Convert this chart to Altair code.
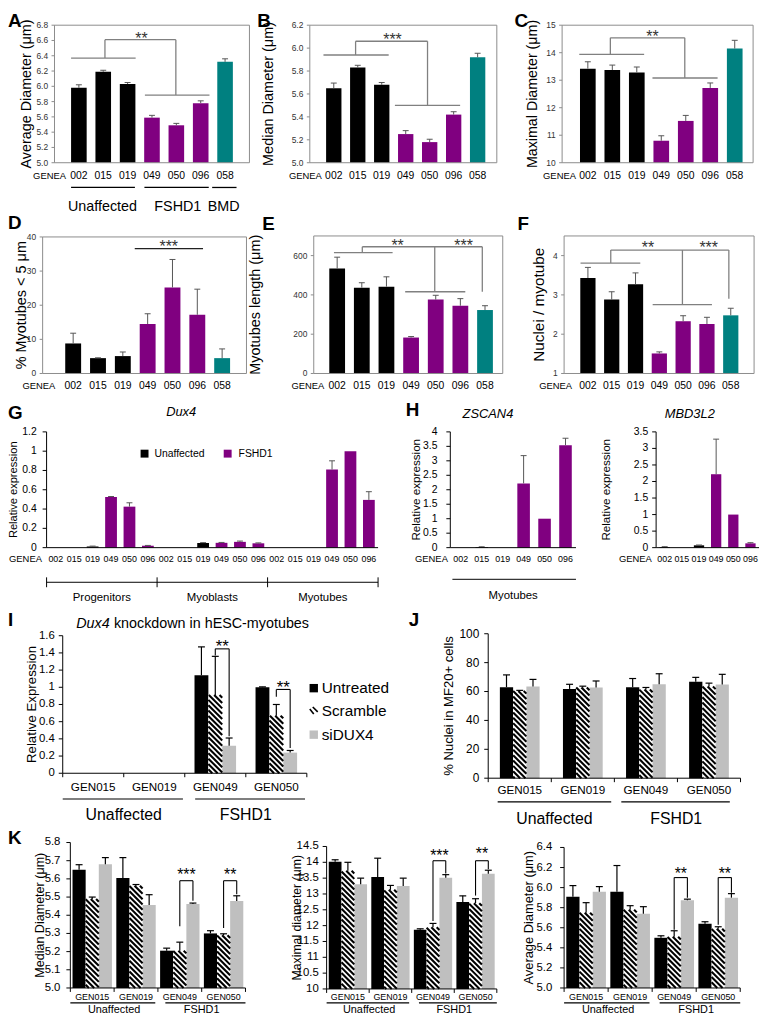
import altair as alt
import pandas as pd

# ------------------------------------------------------------------ data
GENEA = ["002", "015", "019", "049", "050", "096", "058"]
GENEA_GROUP = ["Unaffected", "Unaffected", "Unaffected", "FSHD1", "FSHD1", "FSHD1", "BMD"]

avg_diam = [5.98, 6.19, 6.03, 5.59, 5.49, 5.78, 6.32]
avg_diam_err = [0.04, 0.02, 0.02, 0.03, 0.025, 0.03, 0.04]
med_diam = [5.65, 5.83, 5.68, 5.25, 5.18, 5.42, 5.92]
med_diam_err = [0.045, 0.02, 0.02, 0.03, 0.025, 0.025, 0.035]
max_diam = [13.42, 13.37, 13.28, 10.80, 11.52, 12.72, 14.15]
max_diam_err = [0.25, 0.18, 0.20, 0.18, 0.20, 0.18, 0.30]
pct_small = [8.8, 4.5, 5.1, 14.5, 25.2, 17.2, 4.5]
pct_small_err = [3.0, 0.1, 1.2, 3.0, 8.2, 7.5, 2.7]
tube_len = [534, 437, 442, 183, 376, 345, 323]
tube_len_err = [58, 25, 50, 5, 22, 36, 22]
nuclei = [3.43, 2.88, 3.27, 1.51, 2.33, 2.26, 2.48]
nuclei_err = [0.27, 0.20, 0.29, 0.04, 0.14, 0.17, 0.18]

LINES6 = ["002", "015", "019", "049", "050", "096"]
LINES6_GROUP = ["Unaffected"] * 3 + ["FSHD1"] * 3
STAGES = ["Progenitors", "Myoblasts", "Myotubes"]
dux4 = [0, 0, 0.012, 0.525, 0.425, 0.02,
        0, 0, 0.048, 0.05, 0.06, 0.045,
        0, 0, 0, 0.81, 1.0, 0.495]
dux4_err = [0, 0, 0.004, 0.005, 0.04, 0.003,
            0, 0, 0.004, 0.004, 0.008, 0.004,
            0, 0, 0, 0.09, 0, 0.085]
zscan4 = [0, 0.02, 0, 2.22, 1.0, 3.54]
zscan4_err = [0, 0.01, 0, 0.96, 0, 0.24]
mbd3l2 = [0.02, 0, 0.07, 2.22, 1.0, 0.13]
mbd3l2_err = [0.01, 0, 0.01, 1.06, 0, 0.02]

GEN = ["GEN015", "GEN019", "GEN049", "GEN050"]
GEN_GROUP = ["Unaffected", "Unaffected", "FSHD1", "FSHD1"]
TREAT = ["Untreated", "Scramble", "siDUX4"]

kd_untreated = [0, 0, 1.14, 1.0]
kd_untreated_err = [0, 0, 0.33, 0.005]
kd_scramble = [0, 0, 0.91, 0.67]
kd_scramble_err = [0, 0, 0.45, 0.13]
kd_sidux4 = [0, 0, 0.32, 0.24]
kd_sidux4_err = [0, 0, 0.09, 0.025]

mf20_untreated = [63.0, 61.8, 63.0, 66.8]
mf20_untreated_err = [8.5, 3.2, 6.0, 3.0]
mf20_scramble = [60.4, 62.8, 61.4, 63.5]
mf20_scramble_err = [0.4, 0.9, 1.4, 2.3]
mf20_sidux4 = [63.4, 62.7, 65.0, 64.8]
mf20_sidux4_err = [5.0, 4.6, 7.3, 7.1]

kmed_untreated = [5.65, 5.605, 5.205, 5.30]
kmed_untreated_err = [0.028, 0.112, 0.014, 0.015]
kmed_scramble = [5.489, 5.562, 5.205, 5.29]
kmed_scramble_err = [0.011, 0.007, 0.047, 0.008]
kmed_sidux4 = [5.681, 5.456, 5.462, 5.478]
kmed_sidux4_err = [0.036, 0.057, 0.005, 0.029]

kmax_untreated = [14.02, 13.54, 11.87, 12.75]
kmax_untreated_err = [0.06, 0.59, 0.03, 0.19]
kmax_scramble = [13.73, 13.13, 11.95, 12.71]
kmax_scramble_err = [0.27, 0.14, 0.12, 0.14]
kmax_sidux4 = [13.31, 13.25, 13.51, 13.64]
kmax_sidux4_err = [0.19, 0.25, 0.10, 0.11]

kavg_untreated = [5.91, 5.96, 5.50, 5.64]
kavg_untreated_err = [0.11, 0.26, 0.02, 0.02]
kavg_scramble = [5.75, 5.78, 5.51, 5.59]
kavg_scramble_err = [0.10, 0.04, 0.06, 0.02]
kavg_sidux4 = [5.96, 5.74, 5.875, 5.90]
kavg_sidux4_err = [0.05, 0.07, 0.01, 0.04]

# ------------------------------------------------------------------ style / layout
F = "Liberation Sans"
CW, CH = 762, 1013
M = 8
GROUP_COLOR = {"Unaffected": "#000000", "FSHD1": "#800080", "BMD": "#008080"}
SERIES_COLOR = ["#000000", "#ffffff", "#bfbfbf"]
FRAME = "#8c8c8c"
BRK = "#808080"
ONE = pd.DataFrame({"k": [0]})

LAY = {
    "A": dict(x=(55, 252), y=(159, 20), xd=(-1, 7), yd=(5.0, 6.8)),
    "B": dict(x=(313, 502), y=(159, 20), xd=(-1, 6.8), yd=(5.0, 6.2)),
    "C": dict(x=(568, 761), y=(159, 20), xd=(-1.05, 6.75), yd=(10, 15)),
    "D": dict(x=(43, 249), y=(372, 234), xd=(-1.23, 6.98), yd=(0, 40)),
    "E": dict(x=(317, 508), y=(372, 233), xd=(-0.95, 6.72), yd=(0, 700)),
    "F": dict(x=(570, 762), y=(372, 233), xd=(-1, 6.98), yd=(1, 4.5)),
    "G": dict(x=(47, 382), y=(548, 431), xd=(-0.5, 17.5), yd=(0, 1.2)),
    "HZ": dict(x=(455, 582), y=(548, 431), xd=(-0.5, 5.5), yd=(0, 4)),
    "HM": dict(x=(663, 767), y=(548, 431), xd=(-0.5, 5.5), yd=(0, 3.5)),
    "I": dict(x=(63.3, 310), y=(776, 637), xd=(-0.5, 3.5), yd=(0, 1.6)),
    "J": dict(x=(493.3, 748.3), y=(781, 635), xd=(-0.5, 3.5), yd=(0, 100)),
    "K1": dict(x=(71, 248), y=(993, 846), xd=(-0.5, 3.5), yd=(5.0, 5.8)),
    "K2": dict(x=(330, 502), y=(994, 850), xd=(-0.5, 3.5), yd=(10, 14.5)),
    "K3": dict(x=(570, 748), y=(993, 851), xd=(-0.5, 3.5), yd=(5.0, 6.4)),
}


def P(v):
    return v - M


def scales(lay):
    xs = alt.Scale(domain=list(lay["xd"]), range=[P(lay["x"][0]), P(lay["x"][1])], nice=False, zero=False)
    ys = alt.Scale(domain=list(lay["yd"]), range=[P(lay["y"][0]), P(lay["y"][1])], nice=False, zero=False)
    return xs, ys


def pxper(lay):
    sx = (lay["x"][1] - lay["x"][0]) / (lay["xd"][1] - lay["xd"][0])
    sy = (lay["y"][0] - lay["y"][1]) / (lay["yd"][1] - lay["yd"][0])
    return sx, sy


def ptext(txt, x, y, size, **kw):
    kw.setdefault("font", F)
    return alt.Chart(ONE).mark_text(text=txt, fontSize=size, **kw).encode(
        x=alt.value(P(x)), y=alt.value(P(y)))


def letter(txt, x, y):
    return ptext(txt, x, y, 19, fontWeight="bold", align="left", baseline="alphabetic")


def XD(lay, v):
    xs, _ = scales(lay)
    return alt.XDatum(datum=v, scale=xs, axis=None)


def YD(lay, v):
    _, ys = scales(lay)
    return alt.YDatum(datum=v, scale=ys, axis=None)


def y_axis_layers(lay, values, fmt, lfs, tick=4, tick_color="black", label_color="black",
                  gap=2, domain=True):
    xs, ys = scales(lay)
    sx, _ = pxper(lay)
    x0 = lay["xd"][0]
    df = pd.DataFrame({"v": values})
    out = [
        alt.Chart(df).mark_text(font=F, fontSize=lfs, align="right", baseline="middle",
                                dx=-(tick + gap), color=label_color).encode(
            x=XD(lay, x0), y=alt.Y("v:Q", scale=ys, axis=None), text=alt.Text("v:Q", format=fmt)),
        alt.Chart(df).mark_rule(color=tick_color, strokeWidth=1).encode(
            x=XD(lay, x0), x2=alt.datum(x0 - tick / sx), y=alt.Y("v:Q", scale=ys, axis=None)),
    ]
    if domain:
        out.append(alt.Chart(ONE).mark_rule(color="black", strokeWidth=1).encode(
            x=XD(lay, x0), y=YD(lay, lay["yd"][0]), y2=alt.datum(lay["yd"][1])))
        out.append(alt.Chart(ONE).mark_rule(color="black", strokeWidth=1).encode(
            x=XD(lay, x0), x2=alt.datum(lay["xd"][1]), y=YD(lay, lay["yd"][0])))
    return out


def seg_layer(lay, segs, color=BRK, sw=1.2):
    xs, ys = scales(lay)
    df = pd.DataFrame(segs, columns=["xa", "ya", "xb", "yb"])
    return alt.Chart(df).mark_rule(color=color, strokeWidth=sw).encode(
        x=alt.X("xa:Q", scale=xs, axis=None), x2="xb:Q",
        y=alt.Y("ya:Q", scale=ys, axis=None), y2="yb:Q")


def star_layer(lay, stars, size=16, color="#333333"):
    xs, ys = scales(lay)
    df = pd.DataFrame(stars, columns=["x", "y", "t"])
    return alt.Chart(df).mark_text(font=F, fontSize=size, color=color, baseline="alphabetic",
                                   dy=0.58 * size).encode(
        x=alt.X("x:Q", scale=xs, axis=None), y=alt.Y("y:Q", scale=ys, axis=None), text="t:N")


def xtext(lay, items, y, size, **kw):
    xs, _ = scales(lay)
    df = pd.DataFrame(items, columns=["x", "t"])
    return alt.Chart(df).mark_text(font=F, fontSize=size, **kw).encode(
        x=alt.X("x:Q", scale=xs, axis=None), y=alt.value(P(y)), text="t:N")


def xlines(lay, spans, y, color="black", sw=1.2):
    xs, _ = scales(lay)
    df = pd.DataFrame(spans, columns=["xa", "xb"])
    return alt.Chart(df).mark_rule(color=color, strokeWidth=sw).encode(
        x=alt.X("xa:Q", scale=xs, axis=None), x2="xb:Q", y=alt.value(P(y)))


def xticks(lay, xs_list, y0, y1, color="black"):
    xs, _ = scales(lay)
    df = pd.DataFrame({"x": xs_list})
    return alt.Chart(df).mark_rule(color=color, strokeWidth=1).encode(
        x=alt.X("x:Q", scale=xs, axis=None), y=alt.value(P(y0)), y2=alt.value(P(y1)))


def ytitle(txt, xc, lay, size):
    return ptext(txt, xc, (lay["y"][0] + lay["y"][1]) / 2, size, angle=270, baseline="middle")


def bar_layers(lay, vals, errs, cols, hw, err_color, cap_px, frame=False):
    xs, ys = scales(lay)
    sx, _ = pxper(lay)
    base = lay["yd"][0]
    df = pd.DataFrame({"i": list(range(len(vals))), "v": vals, "e": errs, "c": cols})
    out = []
    out.append(alt.Chart(df).transform_calculate(
        x0=f"datum.i - {hw}", x1=f"datum.i + {hw}", b=f"{base}").mark_rect().encode(
        x=alt.X("x0:Q", scale=xs, axis=None), x2="x1:Q",
        y=alt.Y("v:Q", scale=ys, axis=None), y2="b:Q",
        color=alt.Color("c:N", scale=None)))
    if frame:
        out.append(alt.Chart(ONE).mark_rect(fillOpacity=0, stroke=FRAME, strokeWidth=1).encode(
            x=XD(lay, lay["xd"][0]), x2=alt.datum(lay["xd"][1]),
            y=YD(lay, lay["yd"][0]), y2=alt.datum(lay["yd"][1])))
    cap = cap_px / sx
    e = alt.Chart(df).transform_filter("datum.e > 0").transform_calculate(
        t="datum.v + datum.e", ca=f"datum.i - {cap}", cb=f"datum.i + {cap}")
    out.append(e.mark_rule(color=err_color, strokeWidth=1).encode(
        x=alt.X("i:Q", scale=xs, axis=None), y=alt.Y("v:Q", scale=ys, axis=None), y2="t:Q"))
    out.append(e.mark_rule(color=err_color, strokeWidth=1).encode(
        x=alt.X("ca:Q", scale=xs, axis=None), x2="cb:Q", y=alt.Y("t:Q", scale=ys, axis=None)))
    return out


def grouped_layers(lay, series_vals, series_errs, bw, cap_px=3.5, sp=5.4, sw=2.1):
    xs, ys = scales(lay)
    sx, sy = pxper(lay)
    base = lay["yd"][0]
    rows = []
    for s, (vals, errs) in enumerate(zip(series_vals, series_errs)):
        for g, (v, e) in enumerate(zip(vals, errs)):
            rows.append({"g": g, "s": s, "v": v, "e": e, "c": SERIES_COLOR[s]})
    df = pd.DataFrame(rows)
    out = []
    out.append(alt.Chart(df).transform_calculate(
        xc=f"datum.g + (datum.s - 1) * {bw}").transform_calculate(
        x0=f"datum.xc - {bw / 2}", x1=f"datum.xc + {bw / 2}", b=f"{base}").mark_rect().encode(
        x=alt.X("x0:Q", scale=xs, axis=None), x2="x1:Q",
        y=alt.Y("v:Q", scale=ys, axis=None), y2="b:Q",
        color=alt.Color("c:N", scale=None)))
    W = bw * sx
    out.append(alt.Chart(df)
               .transform_filter(f"datum.s == 1 && datum.v > {base}")
               .transform_calculate(L=f"datum.g - {bw / 2}")
               .transform_calculate(Hh=f"(datum.v - {base}) * {sy}")
               .transform_calculate(ks=f"sequence(0, ceil(({W} + datum.Hh) / {sp}) + 1)")
               .transform_flatten(["ks"], as_=["k"])
               .transform_calculate(c=f"datum.k * {sp} + {sp / 2} - {W}")
               .transform_calculate(u0="max(0, -datum.c)")
               .transform_calculate(u1=f"min({W}, datum.Hh - datum.c)")
               .transform_filter("datum.u1 > datum.u0 + 0.3")
               .transform_calculate(xa=f"datum.L + datum.u0 / {sx}")
               .transform_calculate(xb=f"datum.L + datum.u1 / {sx}")
               .transform_calculate(ya=f"datum.v - (datum.u0 + datum.c) / {sy}")
               .transform_calculate(yb=f"datum.v - (datum.u1 + datum.c) / {sy}")
               .mark_rule(color="black", strokeWidth=sw)
               .encode(x=alt.X("xa:Q", scale=xs, axis=None), x2="xb:Q",
                       y=alt.Y("ya:Q", scale=ys, axis=None), y2="yb:Q"))
    cap = cap_px / sx
    e = (alt.Chart(df).transform_filter("datum.e > 0")
         .transform_calculate(xc=f"datum.g + (datum.s - 1) * {bw}")
         .transform_calculate(t="datum.v + datum.e", ca=f"datum.xc - {cap}", cb=f"datum.xc + {cap}"))
    out.append(e.mark_rule(color="black", strokeWidth=1.2).encode(
        x=alt.X("xc:Q", scale=xs, axis=None), y=alt.Y("v:Q", scale=ys, axis=None), y2="t:Q"))
    out.append(e.mark_rule(color="black", strokeWidth=1.2).encode(
        x=alt.X("ca:Q", scale=xs, axis=None), x2="cb:Q", y=alt.Y("t:Q", scale=ys, axis=None)))
    return out


def ticks_list(a, b, step):
    n = int(round((b - a) / step))
    return [round(a + k * step, 4) for k in range(n + 1)]


panels = []
texts = []

# ---------------------------------------------------------------- A-F
cols7 = [GROUP_COLOR[g] for g in GENEA_GROUP]
top_rows = [
    # key, vals, errs, yticks, fmt, title, title size, title center, label y, GENEA dx
    ("A", avg_diam, avg_diam_err, ticks_list(5.0, 6.8, 0.2), ".1f", "Average Diameter (\u03bcm)", 14.5, 27.5, 172, -13),
    ("B", med_diam, med_diam_err, ticks_list(5.0, 6.2, 0.2), ".1f", "Median Diameter (\u03bcm)", 14.6, 271.7, 172, -12),
    ("C", max_diam, max_diam_err, ticks_list(10, 15, 1), "d", "Maximal Diameter (\u03bcm)", 14.4, 538.3, 172, -12),
    ("D", pct_small, pct_small_err, ticks_list(0, 40, 10), "d", "% Myotubes < 5 \u03bcm", 14.6, 21.7, 385, -18),
    ("E", tube_len, tube_len_err, ticks_list(0, 600, 200), "d", "Myotubes length (\u03bcm)", 14.6, 258.3, 385, -13),
    ("F", nuclei, nuclei_err, ticks_list(1, 4, 1), "d", "Nuclei / myotube", 15.5, 545.0, 385, -16),
]
BRACKETS = {
    "A": [(-0.32, 6.37, 2.33, 6.37), (1.07, 6.37, 1.07, 6.61), (1.07, 6.61, 3.98, 6.61),
          (3.98, 6.61, 3.98, 5.885), (2.71, 5.885, 5.36, 5.885)],
    "B": [(-0.43, 5.94, 2.29, 5.94), (0.91, 5.94, 0.91, 6.06), (0.91, 6.06, 3.91, 6.06),
          (3.91, 6.06, 3.91, 5.50), (2.55, 5.50, 5.27, 5.50)],
    "C": [(-0.35, 13.94, 2.3, 13.94), (0.92, 13.94, 0.92, 14.54), (0.92, 14.54, 3.96, 14.54),
          (3.96, 14.54, 3.96, 13.08), (2.64, 13.08, 5.3, 13.08)],
    "D": [(2.48, 36.6, 5.23, 36.6)],
    "E": [(-0.13, 615, 2.25, 615), (1.02, 615, 1.02, 645), (1.02, 645, 5.89, 645),
          (3.96, 645, 3.96, 416), (2.76, 416, 5.2, 416), (5.89, 645, 5.89, 416)],
    "F": [(-0.31, 3.81, 2.2, 3.81), (0.96, 3.81, 0.96, 4.14), (0.96, 4.14, 5.92, 4.14),
          (3.97, 4.14, 3.97, 2.75), (2.72, 2.75, 5.21, 2.75), (5.92, 4.14, 5.92, 2.9)],
}
STARS = {
    "A": [(2.57, 6.68, "**")],
    "B": [(2.45, 6.11, "***")],
    "C": [(2.64, 14.73, "**")],
    "D": [(3.85, 38.3, "***")],
    "E": [(2.45, 672, "**"), (5.13, 672, "***")],
    "F": [(2.52, 4.3, "**"), (5.07, 4.3, "***")],
}
for key, vals, errs, yt, fmt, title, tfs, tc, ly, gdx in top_rows:
    lay = LAY[key]
    layers = bar_layers(lay, vals, errs, cols7, 0.32, "#555555", 3.0, frame=True)
    layers += y_axis_layers(lay, yt, fmt, 8.5, tick=3, tick_color=FRAME, label_color="#333333",
                            gap=3.5, domain=False)
    layers.append(xtext(lay, list(enumerate(GENEA)), ly, 10.5, baseline="middle"))
    layers.append(seg_layer(lay, BRACKETS[key], color=("#222222" if key == "D" else BRK), sw=1.3))
    layers.append(star_layer(lay, STARS[key], size=16))
    layers.append(xtext(lay, [(0, "GENEA")], ly, 9.5, align="right", baseline="middle", dx=gdx))
    panels.append(alt.layer(*layers))
    texts.append(ytitle(title, tc, lay, tfs))

layA = LAY["A"]
panels.append(alt.layer(
    xlines(layA, [(-0.32, 2.3), (2.69, 5.33), (5.47, 6.47)], 184, sw=1.3),
    xtext(layA, [(0.97, "Unaffected"), (4.06, "FSHD1"), (5.94, "BMD")], 204, 14.5, baseline="middle"),
))

# ---------------------------------------------------------------- G
layG = LAY["G"]
colsG = [GROUP_COLOR[g] for g in LINES6_GROUP] * 3
layersG = bar_layers(layG, dux4, dux4_err, colsG, 0.32, "#555555", 3.0)
layersG += y_axis_layers(layG, ticks_list(0, 1.2, 0.2), "~g", 10.5, tick=4, gap=6)
layersG.append(xtext(layG, list(enumerate(LINES6 * 3)), 560, 9, baseline="middle"))
layersG.append(xtext(layG, [(0, "GENEA")], 560, 9.5, align="right", baseline="middle", dx=-14))
layersG.append(xlines(layG, [(-0.5, 17.5)], 583, sw=1))
layersG.append(xticks(layG, [-0.5, 5.5, 11.5, 17.5], 578, 588))
layersG.append(xtext(layG, [(2.5, STAGES[0]), (8.5, STAGES[1]), (14.5, STAGES[2])], 599, 11.5,
                     baseline="middle"))
panels.append(alt.layer(*layersG))
texts.append(ytitle("Relative expression", 14.5, layG, 11.2))
texts.append(ptext("Dux4", 183, 411, 13, fontStyle="italic", baseline="middle"))
texts.append(alt.Chart(pd.DataFrame({"c": ["#000000", "#800080"], "x": [P(146), P(230)]}))
             .mark_square(size=64, opacity=1).encode(x=alt.X("x:Q", scale=None, axis=None),
                                                     y=alt.value(P(453)),
                                                     color=alt.Color("c:N", scale=None)))
texts.append(ptext("Unaffected", 156, 453, 10.5, align="left", baseline="middle"))
texts.append(ptext("FSHD1", 241, 453, 10.5, align="left", baseline="middle"))

# ---------------------------------------------------------------- H
colsH = [GROUP_COLOR[g] for g in LINES6_GROUP]
for key, vals, errs, yt, title_c, name, name_x, gap in [
    ("HZ", zscan4, zscan4_err, ticks_list(0, 4, 0.5), 420.0, "ZSCAN4", 493, 9),
    ("HM", mbd3l2, mbd3l2_err, ticks_list(0, 3.5, 0.5), 612.0, "MBD3L2", 697, 4),
]:
    lay = LAY[key]
    layers = bar_layers(lay, vals, errs, colsH, 0.3, "#555555", 3.0)
    layers += y_axis_layers(lay, yt, "~g", 10.5, tick=4, gap=gap)
    layers.append(xtext(lay, list(enumerate(LINES6)), 560, 9, baseline="middle"))
    layers.append(xtext(lay, [(0, "GENEA")], 560, 9.5, align="right", baseline="middle", dx=-13))
    panels.append(alt.layer(*layers))
    texts.append(ytitle("Relative expression", title_c, lay, 11.8))
    texts.append(ptext(name, name_x, 413, 13, fontStyle="italic", baseline="middle"))
layHZ = LAY["HZ"]
panels.append(alt.layer(
    xlines(layHZ, [(-0.4, 5.5)], 580, sw=1),
    xtext(layHZ, [(2.5, "Myotubes")], 597, 11.5, baseline="middle"),
))


# ---------------------------------------------------------------- I / J / K
def grouped_panel(key, sv, se, bw, yt, fmt, lfs, gap, xl_fs, label_y, line_y, grp_y,
                  grp_fs, spans, grp_x, brackets=None, stars=None, star_fs=15, cap_px=3.5):
    lay = LAY[key]
    layers = grouped_layers(lay, sv, se, bw, cap_px=cap_px)
    layers += y_axis_layers(lay, yt, fmt, lfs, tick=4, gap=gap)
    layers.append(xtext(lay, list(enumerate(GEN)), label_y, xl_fs, baseline="middle"))
    layers.append(xticks(lay, [-0.5, 0.5, 1.5, 2.5, 3.5], lay["y"][0], lay["y"][0] + 4))
    layers.append(xlines(lay, spans, line_y, sw=1.2))
    layers.append(xtext(lay, [(grp_x[0], "Unaffected"), (grp_x[1], "FSHD1")], grp_y, grp_fs,
                        baseline="middle"))
    if brackets:
        layers.append(seg_layer(lay, brackets, color="black", sw=1.1))
    if stars:
        layers.append(star_layer(lay, stars, size=star_fs, color="black"))
    return alt.layer(*layers)


bwI = 0.227
panels.append(grouped_panel(
    "I", [kd_untreated, kd_scramble, kd_sidux4], [kd_untreated_err, kd_scramble_err, kd_sidux4_err],
    bwI, ticks_list(0, 1.6, 0.2), "~g", 11.5, 4, 11.8, 790, 802, 818, 16,
    [(-0.5, 1.47), (1.67, 3.47)], (0.5, 2.5),
    brackets=[(2.0, 1.37, 2.0, 1.447), (2.0, 1.447, 2 + bwI, 1.447), (2 + bwI, 1.447, 2 + bwI, 0.43),
              (3.0, 0.89, 3.0, 0.975), (3.0, 0.975, 3 + bwI, 0.975), (3 + bwI, 0.975, 3 + bwI, 0.295)],
    stars=[(2 + bwI / 2, 1.52, "**"), (3 + bwI / 2, 1.05, "**")], star_fs=17))
texts.append(ytitle("Relative Expression", 32.5, LAY["I"], 13.4))
texts.append(ptext("Dux4", 77, 625, 14.5, fontStyle="italic", align="left", baseline="middle"))
texts.append(ptext("knockdown in hESC-myotubes", 115, 625, 14.5, align="left", baseline="middle"))
texts.append(alt.Chart(pd.DataFrame({"c": ["#000000", "#bfbfbf"], "y": [P(690), P(737)]}))
             .mark_square(size=72, opacity=1).encode(x=alt.value(P(317)),
                                                     y=alt.Y("y:Q", scale=None, axis=None),
                                                     color=alt.Color("c:N", scale=None)))
texts.append(alt.Chart(pd.DataFrame({"xa": [P(313), P(316)], "ya": [P(711), P(709)],
                                     "xb": [P(317), P(321)], "yb": [P(716), P(714)]}))
             .mark_rule(color="black", strokeWidth=1.6).encode(
                 x=alt.X("xa:Q", scale=None, axis=None), y=alt.Y("ya:Q", scale=None, axis=None),
                 x2="xb:Q", y2="yb:Q"))
for t, yy in zip(TREAT, [690, 713, 737]):
    texts.append(ptext(t, 325, yy, 15.5, align="left", baseline="middle"))

panels.append(grouped_panel(
    "J", [mf20_untreated, mf20_scramble, mf20_sidux4], [mf20_untreated_err, mf20_scramble_err, mf20_sidux4_err],
    0.21, ticks_list(0, 100, 20), "d", 12, 5, 11.8, 793, 805, 822, 16,
    [(-0.35, 1.45), (1.61, 3.33)], (0.55, 2.48)))
texts.append(ytitle("% Nuclei in MF20+ cells", 453.3, LAY["J"], 13.2))

bwK = 0.3
K_BR = {
    "K1": ([(2.0, 5.34, 2.0, 5.59), (2.0, 5.59, 2 + bwK, 5.59), (2 + bwK, 5.59, 2 + bwK, 5.48),
            (3.0, 5.33, 3.0, 5.59), (3.0, 5.59, 3 + bwK, 5.59), (3 + bwK, 5.59, 3 + bwK, 5.515)],
           [(2 + bwK / 2, 5.645, "***"), (3 + bwK / 2, 5.645, "**")]),
    "K2": ([(2.0, 12.15, 2.0, 14.05), (2.0, 14.05, 2 + bwK, 14.05), (2 + bwK, 14.05, 2 + bwK, 13.65),
            (3.0, 12.95, 3.0, 14.05), (3.0, 14.05, 3 + bwK, 14.05), (3 + bwK, 14.05, 3 + bwK, 13.78)],
           [(2 + bwK / 2, 14.34, "***"), (3 + bwK / 2, 14.38, "**")]),
    "K3": ([(2.0, 5.58, 2.0, 6.1), (2.0, 6.1, 2 + bwK, 6.1), (2 + bwK, 6.1, 2 + bwK, 5.9),
            (3.0, 5.63, 3.0, 6.1), (3.0, 6.1, 3 + bwK, 6.1), (3 + bwK, 6.1, 3 + bwK, 5.95)],
           [(2 + bwK / 2, 6.18, "**"), (3 + bwK / 2, 6.18, "**")]),
}
for key, sv, se, yt, fmt, title, tfs, tc, gap in [
    ("K1", [kmed_untreated, kmed_scramble, kmed_sidux4], [kmed_untreated_err, kmed_scramble_err, kmed_sidux4_err],
     ticks_list(5.0, 5.8, 0.1), ".1f", "Median Diameter (\u03bcm)", 12.7, 40.5, 6),
    ("K2", [kmax_untreated, kmax_scramble, kmax_sidux4], [kmax_untreated_err, kmax_scramble_err, kmax_sidux4_err],
     ticks_list(10, 14.5, 0.5), "~g", "Maximal diameter (\u03bcm)", 12.4, 300.0, 4),
    ("K3", [kavg_untreated, kavg_scramble, kavg_sidux4], [kavg_untreated_err, kavg_scramble_err, kavg_sidux4_err],
     ticks_list(5.0, 6.4, 0.2), ".1f", "Average Diameter (\u03bcm)", 13.0, 535.0, 8),
]:
    br, st = K_BR[key]
    panels.append(grouped_panel(
        key, sv, se, bwK, yt, fmt, 11.5, gap, 9, 1002, 1008, 1015.5, 11,
        [(-0.5, 1.44), (1.67, 3.5)], (0.5, 2.5), brackets=br, stars=st, star_fs=16))
    texts.append(ytitle(title, tc, LAY[key], tfs))

# ---------------------------------------------------------------- panel letters
for t, x, y in [("A", 8, 22), ("B", 260, 22), ("C", 520, 22), ("D", 8, 226), ("E", 265, 227),
                ("F", 523, 227), ("G", 8, 418), ("H", 410, 415), ("I", 8, 627), ("J", 413, 627),
                ("K", 8, 848)]:
    texts.append(letter(t, x, y))

chart = alt.layer(*panels, *texts).resolve_scale(x="independent", y="independent").properties(
    width=CW, height=CH, padding=0, autosize=alt.AutoSizeParams(type="none")
).configure_view(stroke=None)

chart.save("out.html", embed_options={"renderer": "svg", "actions": False})
